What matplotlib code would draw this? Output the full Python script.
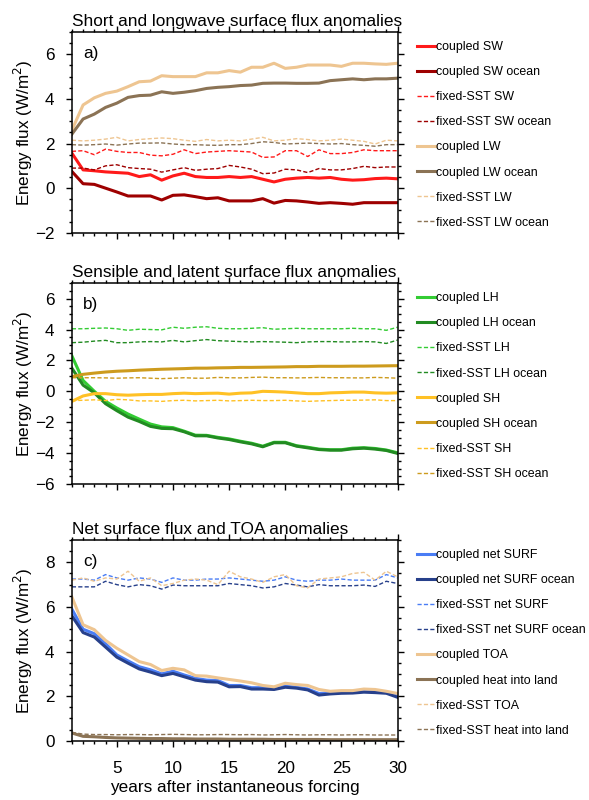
import matplotlib
matplotlib.use('Agg')
import matplotlib.pyplot as plt
import numpy as np
from matplotlib.ticker import MultipleLocator

plt.rcParams['font.family'] = ['Liberation Sans', 'DejaVu Sans']

years = np.arange(1, 31)

# panel a: short and longwave
cpl_sw = [1.57, 0.82, 0.78, 0.73, 0.70, 0.67, 0.52, 0.60, 0.36, 0.55,
          0.67, 0.52, 0.48, 0.48, 0.52, 0.48, 0.52, 0.40, 0.28, 0.40,
          0.45, 0.48, 0.45, 0.48, 0.40, 0.36, 0.38, 0.43, 0.45, 0.42]
cpl_sw_ocn = [0.75, 0.20, 0.17, 0.00, -0.17, -0.35, -0.35, -0.35, -0.53, -0.32,
              -0.30, -0.38, -0.47, -0.43, -0.57, -0.57, -0.57, -0.47, -0.67, -0.55,
              -0.57, -0.62, -0.68, -0.65, -0.68, -0.72, -0.65, -0.65, -0.65, -0.65]
fix_sw = [1.65, 1.68, 1.50, 1.75, 1.65, 1.60, 1.60, 1.48, 1.45, 1.52,
          1.72, 1.55, 1.62, 1.65, 1.68, 1.65, 1.62, 1.38, 1.40, 1.68,
          1.68, 1.42, 1.72, 1.55, 1.55, 1.60, 1.72, 1.68, 1.68, 1.68]
fix_sw_ocn = [0.90, 0.90, 0.82, 1.00, 1.05, 0.92, 0.88, 0.85, 0.72, 0.82,
              0.92, 0.80, 0.85, 0.88, 1.02, 0.95, 0.85, 0.65, 0.68, 0.85,
              0.82, 0.70, 0.88, 0.82, 0.82, 0.88, 0.98, 0.92, 0.95, 0.95]
cpl_lw = [2.60, 3.73, 4.05, 4.25, 4.35, 4.55, 4.77, 4.80, 5.04, 5.00,
          5.00, 5.00, 5.17, 5.17, 5.27, 5.20, 5.42, 5.42, 5.60, 5.37,
          5.42, 5.52, 5.52, 5.52, 5.46, 5.60, 5.60, 5.57, 5.55, 5.60]
cpl_lw_ocn = [2.42, 3.10, 3.32, 3.62, 3.81, 4.07, 4.15, 4.17, 4.32, 4.25,
              4.30, 4.37, 4.47, 4.52, 4.55, 4.60, 4.62, 4.70, 4.71, 4.71,
              4.70, 4.70, 4.71, 4.82, 4.86, 4.90, 4.86, 4.90, 4.90, 4.93]
fix_lw = [2.15, 2.12, 2.15, 2.20, 2.28, 2.12, 2.18, 2.22, 2.25, 2.22,
          2.15, 2.10, 2.18, 2.12, 2.15, 2.12, 2.20, 2.28, 2.12, 2.15,
          2.22, 2.18, 2.12, 2.15, 2.20, 2.15, 2.10, 1.98, 2.15, 2.12]
fix_lw_ocn = [1.95, 1.93, 1.95, 1.98, 1.93, 1.98, 2.02, 2.02, 2.03, 1.98,
              1.95, 1.95, 1.93, 1.92, 1.95, 1.95, 2.00, 2.08, 2.05, 1.98,
              2.00, 2.02, 2.00, 1.98, 2.00, 1.95, 1.92, 1.88, 1.95, 1.95]

# panel b: sensible and latent
cpl_lh = [2.30, 0.70, 0.00, -0.65, -1.08, -1.47, -1.80, -2.12, -2.30, -2.35,
          -2.58, -2.84, -2.85, -2.98, -3.08, -3.23, -3.36, -3.55, -3.30, -3.30,
          -3.52, -3.62, -3.74, -3.78, -3.78, -3.68, -3.65, -3.70, -3.80, -3.98]
cpl_lh_ocn = [1.50, 0.40, -0.10, -0.80, -1.25, -1.67, -1.95, -2.27, -2.40, -2.42,
              -2.62, -2.88, -2.88, -3.02, -3.12, -3.27, -3.40, -3.59, -3.33, -3.33,
              -3.55, -3.66, -3.77, -3.81, -3.81, -3.72, -3.68, -3.74, -3.83, -4.02]
fix_lh = [4.05, 4.05, 4.08, 4.10, 4.05, 3.95, 4.02, 4.00, 3.98, 4.15,
          4.08, 4.15, 4.18, 4.08, 4.05, 4.05, 4.08, 4.12, 4.02, 4.05,
          4.08, 4.05, 4.05, 4.05, 4.05, 4.08, 4.05, 4.05, 3.95, 4.15]
fix_lh_ocn = [3.15, 3.18, 3.25, 3.30, 3.15, 3.15, 3.20, 3.22, 3.20, 3.30,
              3.20, 3.28, 3.35, 3.28, 3.25, 3.22, 3.20, 3.22, 3.20, 3.18,
              3.15, 3.20, 3.22, 3.22, 3.20, 3.20, 3.22, 3.20, 3.10, 3.32]
cpl_sh = [-0.65, -0.30, -0.15, -0.15, -0.22, -0.25, -0.22, -0.20, -0.20, -0.15,
          -0.12, -0.15, -0.13, -0.12, -0.18, -0.12, -0.10, 0.00, -0.02, -0.05,
          -0.10, -0.15, -0.15, -0.10, -0.08, -0.05, -0.05, -0.10, -0.12, -0.10]
cpl_sh_ocn = [0.95, 1.10, 1.18, 1.25, 1.30, 1.33, 1.37, 1.40, 1.43, 1.45,
              1.47, 1.50, 1.50, 1.52, 1.53, 1.55, 1.55, 1.56, 1.57, 1.58,
              1.60, 1.60, 1.62, 1.62, 1.62, 1.63, 1.63, 1.64, 1.65, 1.66]
fix_sh = [-0.60, -0.58, -0.55, -0.60, -0.52, -0.55, -0.62, -0.62, -0.65, -0.60,
          -0.58, -0.62, -0.60, -0.58, -0.62, -0.60, -0.58, -0.60, -0.60, -0.58,
          -0.62, -0.65, -0.62, -0.60, -0.58, -0.58, -0.57, -0.55, -0.60, -0.60]
fix_sh_ocn = [0.88, 0.88, 0.88, 0.87, 0.85, 0.87, 0.88, 0.85, 0.82, 0.85,
              0.88, 0.85, 0.85, 0.90, 0.88, 0.87, 0.90, 0.92, 0.88, 0.88,
              0.87, 0.88, 0.90, 0.88, 0.88, 0.87, 0.87, 0.90, 0.88, 0.85]

# panel c: net surface and TOA
cpl_surf = [5.90, 5.00, 4.80, 4.35, 3.85, 3.58, 3.32, 3.18, 3.00, 3.12,
            2.95, 2.80, 2.72, 2.70, 2.48, 2.48, 2.38, 2.38, 2.35, 2.45,
            2.40, 2.32, 2.12, 2.15, 2.18, 2.18, 2.22, 2.20, 2.18, 2.00]
cpl_surf_ocn = [5.60, 4.85, 4.65, 4.20, 3.75, 3.48, 3.22, 3.08, 2.92, 3.02,
                2.87, 2.72, 2.65, 2.63, 2.42, 2.43, 2.32, 2.32, 2.30, 2.40,
                2.36, 2.28, 2.05, 2.10, 2.13, 2.14, 2.18, 2.16, 2.13, 1.95]
fix_surf = [7.25, 7.25, 7.20, 7.45, 7.30, 7.20, 7.30, 7.25, 7.10, 7.30,
            7.20, 7.20, 7.25, 7.25, 7.30, 7.25, 7.20, 7.15, 7.20, 7.35,
            7.20, 7.15, 7.20, 7.20, 7.25, 7.20, 7.20, 7.20, 7.45, 7.30]
fix_surf_ocn = [6.90, 6.90, 6.90, 7.15, 7.00, 6.90, 7.00, 6.95, 6.80, 6.98,
                6.95, 6.95, 6.95, 6.95, 7.05, 7.00, 6.95, 6.85, 6.90, 7.05,
                6.98, 6.90, 7.00, 6.95, 6.95, 6.95, 6.98, 6.92, 7.15, 7.05]
cpl_toa = [6.45, 5.20, 4.98, 4.50, 4.15, 3.85, 3.55, 3.42, 3.15, 3.25,
           3.18, 2.92, 2.90, 2.82, 2.75, 2.68, 2.60, 2.48, 2.42, 2.58,
           2.52, 2.48, 2.30, 2.22, 2.25, 2.25, 2.32, 2.30, 2.22, 2.12]
cpl_land = [0.35, 0.20, 0.18, 0.15, 0.13, 0.12, 0.11, 0.10, 0.10, 0.09,
            0.09, 0.08, 0.08, 0.08, 0.07, 0.07, 0.07, 0.07, 0.06, 0.06,
            0.06, 0.06, 0.06, 0.05, 0.05, 0.05, 0.05, 0.05, 0.05, 0.05]
fix_toa = [7.20, 7.30, 7.15, 7.30, 7.25, 7.60, 7.15, 7.30, 6.95, 7.05,
           7.20, 7.25, 7.20, 7.00, 7.60, 7.35, 7.25, 7.10, 7.35, 7.45,
           6.95, 6.85, 7.25, 7.30, 7.35, 7.50, 7.55, 7.20, 7.60, 7.35]
fix_land = [0.38, 0.30, 0.28, 0.28, 0.27, 0.28, 0.28, 0.27, 0.28, 0.29,
            0.28, 0.27, 0.27, 0.28, 0.28, 0.27, 0.28, 0.26, 0.27, 0.28,
            0.27, 0.26, 0.27, 0.27, 0.26, 0.27, 0.27, 0.26, 0.26, 0.26]

red, dred = '#ff1a1a', '#9e0000'
ltan, dtan = '#eec591', '#8b7355'
lgrn, dgrn = '#33cc33', '#228b22'
ylw, gold = '#ffc125', '#cd9b1d'
blu, dblu = '#4a7df5', '#27408b'

dash = (0, (3, 1.6))

panels = [
    ('Short and longwave surface flux anomalies', 'a)', (-2, 7), 2, [
        (cpl_sw, red, '-', 'coupled SW'),
        (cpl_sw_ocn, dred, '-', 'coupled SW ocean'),
        (fix_sw, red, dash, 'fixed-SST SW'),
        (fix_sw_ocn, dred, dash, 'fixed-SST SW ocean'),
        (cpl_lw, ltan, '-', 'coupled LW'),
        (cpl_lw_ocn, dtan, '-', 'coupled LW ocean'),
        (fix_lw, ltan, dash, 'fixed-SST LW'),
        (fix_lw_ocn, dtan, dash, 'fixed-SST LW ocean')]),
    ('Sensible and latent surface flux anomalies', 'b)', (-6, 7), 2, [
        (cpl_lh, lgrn, '-', 'coupled LH'),
        (cpl_lh_ocn, dgrn, '-', 'coupled LH ocean'),
        (fix_lh, lgrn, dash, 'fixed-SST LH'),
        (fix_lh_ocn, dgrn, dash, 'fixed-SST LH ocean'),
        (cpl_sh, ylw, '-', 'coupled SH'),
        (cpl_sh_ocn, gold, '-', 'coupled SH ocean'),
        (fix_sh, ylw, dash, 'fixed-SST SH'),
        (fix_sh_ocn, gold, dash, 'fixed-SST SH ocean')]),
    ('Net surface flux and TOA anomalies', 'c)', (0, 9), 2, [
        (cpl_surf, blu, '-', 'coupled net SURF'),
        (cpl_surf_ocn, dblu, '-', 'coupled net SURF ocean'),
        (fix_surf, blu, dash, 'fixed-SST net SURF'),
        (fix_surf_ocn, dblu, dash, 'fixed-SST net SURF ocean'),
        (cpl_toa, ltan, '-', 'coupled TOA'),
        (cpl_land, dtan, '-', 'coupled heat into land'),
        (fix_toa, ltan, dash, 'fixed-SST TOA'),
        (fix_land, dtan, dash, 'fixed-SST heat into land')]),
]

fig = plt.figure(figsize=(5.89, 8), dpi=100)
bottoms = [0.709, 0.395, 0.074]

for i, (title, tag, ylim, ystep, series) in enumerate(panels):
    ax = fig.add_axes([0.122, bottoms[i], 0.553, 0.251])
    for vals, col, ls, lab in series:
        solid = ls == '-'
        ax.plot(years, vals, color=col, linestyle=ls, lw=2.2 if solid else 1.0,
                label=lab)
    ax.set_xlim(1, 30)
    ax.set_ylim(*ylim)
    ax.xaxis.set_major_locator(MultipleLocator(5))
    ax.xaxis.set_minor_locator(MultipleLocator(1))
    ax.yaxis.set_major_locator(MultipleLocator(ystep))
    ax.yaxis.set_minor_locator(MultipleLocator(0.5))
    ax.tick_params(which='both', direction='out', top=True, right=True,
                   width=1.0, labelsize=12.3)
    ax.tick_params(which='major', length=4.5, pad=8)
    ax.tick_params(axis='x', which='major', pad=10)
    ax.tick_params(which='minor', length=2.5)
    for sp in ax.spines.values():
        sp.set_linewidth(1.1)
    if i < 2:
        ax.tick_params(labelbottom=False)
    else:
        ax.set_xlabel('years after instantaneous forcing', fontsize=12.3,
                      labelpad=3)
    ax.set_title(title, loc='left', fontsize=12.4, pad=4.5)
    ax.set_ylabel('Energy flux (W/m$^2$)', fontsize=12.3)
    ax.yaxis.set_label_coords(-0.113, 0.5)
    ax.text(0.034, 0.895, tag, transform=ax.transAxes, fontsize=12.3,
            va='center', ha='left')
    ax.legend(loc='upper left', bbox_to_anchor=(1.061, 0.955),
              frameon=False, fontsize=8.9, handlelength=1.4,
              handletextpad=0.1, borderpad=0, borderaxespad=0,
              labelspacing=1.06)

fig.savefig('out.png', dpi=100)
